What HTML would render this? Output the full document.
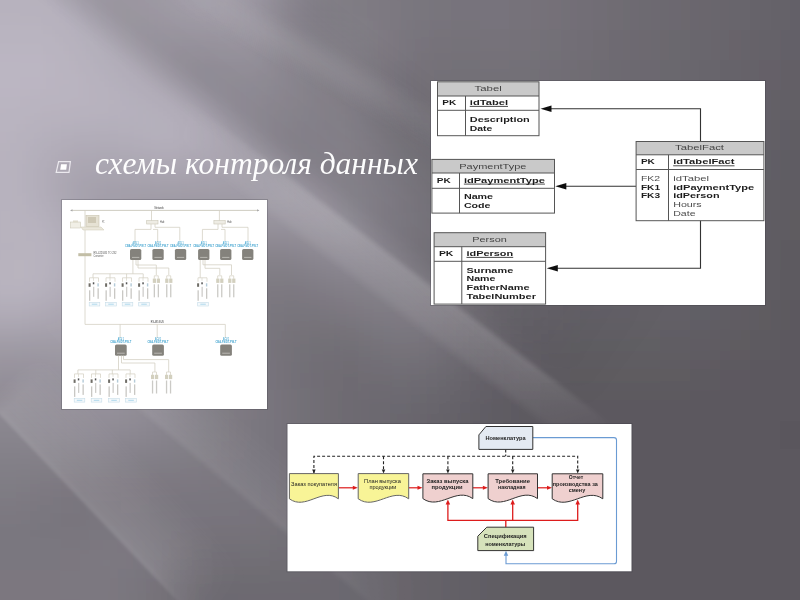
<!DOCTYPE html>
<html><head><meta charset="utf-8">
<style>
html,body{margin:0;padding:0;width:800px;height:600px;overflow:hidden;}
body{position:relative;font-family:"Liberation Sans",sans-serif;background:#5b585f;}
#st{position:absolute;left:0;top:0;width:800px;height:600px;overflow:hidden;}
#st div{position:absolute;}
#txt{position:absolute;left:95px;top:144px;font-family:"Liberation Serif",serif;font-style:italic;font-size:31.5px;line-height:40px;color:#fff;white-space:nowrap;opacity:0.99;}
svg.d{position:absolute;left:0;top:0;}
</style></head>
<body>
<svg id="bgf" width="800" height="600" viewBox="0 0 800 600" style="position:absolute;left:0;top:0"><defs><filter id="fb" x="-20%" y="-20%" width="140%" height="140%"><feGaussianBlur stdDeviation="15"/></filter></defs><g filter="url(#fb)"><rect x="-60" y="-60" width="30" height="30" fill="#b7b2be"/><rect x="-30" y="-60" width="30" height="30" fill="#b7b2be"/><rect x="0" y="-60" width="30" height="30" fill="#b7b2be"/><rect x="30" y="-60" width="30" height="30" fill="#b6b1bc"/><rect x="60" y="-60" width="30" height="30" fill="#b3aeba"/><rect x="90" y="-60" width="30" height="30" fill="#b0abb6"/><rect x="120" y="-60" width="30" height="30" fill="#afabb6"/><rect x="150" y="-60" width="30" height="30" fill="#b3aeb9"/><rect x="180" y="-60" width="30" height="30" fill="#b7b2be"/><rect x="210" y="-60" width="30" height="30" fill="#b3aeb9"/><rect x="240" y="-60" width="30" height="30" fill="#a5a0ab"/><rect x="270" y="-60" width="30" height="30" fill="#908c95"/><rect x="300" y="-60" width="30" height="30" fill="#827e87"/><rect x="330" y="-60" width="30" height="30" fill="#7f7b83"/><rect x="360" y="-60" width="30" height="30" fill="#7d7981"/><rect x="390" y="-60" width="30" height="30" fill="#7b777f"/><rect x="420" y="-60" width="30" height="30" fill="#79757d"/><rect x="450" y="-60" width="30" height="30" fill="#78747c"/><rect x="480" y="-60" width="30" height="30" fill="#77747b"/><rect x="510" y="-60" width="30" height="30" fill="#76727a"/><rect x="540" y="-60" width="30" height="30" fill="#747178"/><rect x="570" y="-60" width="30" height="30" fill="#726e76"/><rect x="600" y="-60" width="30" height="30" fill="#706c74"/><rect x="630" y="-60" width="30" height="30" fill="#6e6a72"/><rect x="660" y="-60" width="30" height="30" fill="#6c6970"/><rect x="690" y="-60" width="30" height="30" fill="#6a676e"/><rect x="720" y="-60" width="30" height="30" fill="#68656c"/><rect x="750" y="-60" width="30" height="30" fill="#66636a"/><rect x="780" y="-60" width="30" height="30" fill="#656168"/><rect x="810" y="-60" width="30" height="30" fill="#646168"/><rect x="840" y="-60" width="30" height="30" fill="#646168"/><rect x="-60" y="-30" width="30" height="30" fill="#b7b2be"/><rect x="-30" y="-30" width="30" height="30" fill="#b7b2be"/><rect x="0" y="-30" width="30" height="30" fill="#b7b2be"/><rect x="30" y="-30" width="30" height="30" fill="#b6b1bc"/><rect x="60" y="-30" width="30" height="30" fill="#b3aeba"/><rect x="90" y="-30" width="30" height="30" fill="#b0abb6"/><rect x="120" y="-30" width="30" height="30" fill="#afabb6"/><rect x="150" y="-30" width="30" height="30" fill="#b3aeb9"/><rect x="180" y="-30" width="30" height="30" fill="#b7b2be"/><rect x="210" y="-30" width="30" height="30" fill="#b3aeb9"/><rect x="240" y="-30" width="30" height="30" fill="#a5a0ab"/><rect x="270" y="-30" width="30" height="30" fill="#908c95"/><rect x="300" y="-30" width="30" height="30" fill="#827e87"/><rect x="330" y="-30" width="30" height="30" fill="#7f7b83"/><rect x="360" y="-30" width="30" height="30" fill="#7d7981"/><rect x="390" y="-30" width="30" height="30" fill="#7b777f"/><rect x="420" y="-30" width="30" height="30" fill="#79757d"/><rect x="450" y="-30" width="30" height="30" fill="#78747c"/><rect x="480" y="-30" width="30" height="30" fill="#77747b"/><rect x="510" y="-30" width="30" height="30" fill="#76727a"/><rect x="540" y="-30" width="30" height="30" fill="#747178"/><rect x="570" y="-30" width="30" height="30" fill="#726e76"/><rect x="600" y="-30" width="30" height="30" fill="#706c74"/><rect x="630" y="-30" width="30" height="30" fill="#6e6a72"/><rect x="660" y="-30" width="30" height="30" fill="#6c6970"/><rect x="690" y="-30" width="30" height="30" fill="#6a676e"/><rect x="720" y="-30" width="30" height="30" fill="#68656c"/><rect x="750" y="-30" width="30" height="30" fill="#66636a"/><rect x="780" y="-30" width="30" height="30" fill="#656168"/><rect x="810" y="-30" width="30" height="30" fill="#646168"/><rect x="840" y="-30" width="30" height="30" fill="#646168"/><rect x="-60" y="0" width="30" height="30" fill="#b8b3bf"/><rect x="-30" y="0" width="30" height="30" fill="#b8b3bf"/><rect x="0" y="0" width="30" height="30" fill="#b7b2be"/><rect x="30" y="0" width="30" height="30" fill="#b7b2be"/><rect x="60" y="0" width="30" height="30" fill="#b4afbb"/><rect x="90" y="0" width="30" height="30" fill="#afaab6"/><rect x="120" y="0" width="30" height="30" fill="#aea9b4"/><rect x="150" y="0" width="30" height="30" fill="#b0abb7"/><rect x="180" y="0" width="30" height="30" fill="#b5b0bc"/><rect x="210" y="0" width="30" height="30" fill="#b3aeb9"/><rect x="240" y="0" width="30" height="30" fill="#a7a3ae"/><rect x="270" y="0" width="30" height="30" fill="#928d97"/><rect x="300" y="0" width="30" height="30" fill="#837f88"/><rect x="330" y="0" width="30" height="30" fill="#807d85"/><rect x="360" y="0" width="30" height="30" fill="#7e7a82"/><rect x="390" y="0" width="30" height="30" fill="#7a777f"/><rect x="420" y="0" width="30" height="30" fill="#78747c"/><rect x="450" y="0" width="30" height="30" fill="#77737b"/><rect x="480" y="0" width="30" height="30" fill="#77737b"/><rect x="510" y="0" width="30" height="30" fill="#76727a"/><rect x="540" y="0" width="30" height="30" fill="#747078"/><rect x="570" y="0" width="30" height="30" fill="#726e76"/><rect x="600" y="0" width="30" height="30" fill="#6f6c73"/><rect x="630" y="0" width="30" height="30" fill="#6d6a71"/><rect x="660" y="0" width="30" height="30" fill="#6c686f"/><rect x="690" y="0" width="30" height="30" fill="#6a666d"/><rect x="720" y="0" width="30" height="30" fill="#68656c"/><rect x="750" y="0" width="30" height="30" fill="#66636a"/><rect x="780" y="0" width="30" height="30" fill="#646168"/><rect x="810" y="0" width="30" height="30" fill="#646167"/><rect x="840" y="0" width="30" height="30" fill="#646167"/><rect x="-60" y="30" width="30" height="30" fill="#bab5c1"/><rect x="-30" y="30" width="30" height="30" fill="#bab5c1"/><rect x="0" y="30" width="30" height="30" fill="#bab5c1"/><rect x="30" y="30" width="30" height="30" fill="#bab5c1"/><rect x="60" y="30" width="30" height="30" fill="#b7b2be"/><rect x="90" y="30" width="30" height="30" fill="#b1adb8"/><rect x="120" y="30" width="30" height="30" fill="#aca7b2"/><rect x="150" y="30" width="30" height="30" fill="#a9a4af"/><rect x="180" y="30" width="30" height="30" fill="#a7a2ad"/><rect x="210" y="30" width="30" height="30" fill="#aaa6b1"/><rect x="240" y="30" width="30" height="30" fill="#aaa5b0"/><rect x="270" y="30" width="30" height="30" fill="#99959f"/><rect x="300" y="30" width="30" height="30" fill="#8c8891"/><rect x="330" y="30" width="30" height="30" fill="#86838b"/><rect x="360" y="30" width="30" height="30" fill="#807c84"/><rect x="390" y="30" width="30" height="30" fill="#79757d"/><rect x="420" y="30" width="30" height="30" fill="#76727a"/><rect x="450" y="30" width="30" height="30" fill="#757279"/><rect x="480" y="30" width="30" height="30" fill="#76727a"/><rect x="510" y="30" width="30" height="30" fill="#757179"/><rect x="540" y="30" width="30" height="30" fill="#736f77"/><rect x="570" y="30" width="30" height="30" fill="#716d74"/><rect x="600" y="30" width="30" height="30" fill="#6e6b72"/><rect x="630" y="30" width="30" height="30" fill="#6d6970"/><rect x="660" y="30" width="30" height="30" fill="#6b676e"/><rect x="690" y="30" width="30" height="30" fill="#69666d"/><rect x="720" y="30" width="30" height="30" fill="#67646b"/><rect x="750" y="30" width="30" height="30" fill="#656269"/><rect x="780" y="30" width="30" height="30" fill="#636067"/><rect x="810" y="30" width="30" height="30" fill="#636067"/><rect x="840" y="30" width="30" height="30" fill="#636067"/><rect x="-60" y="60" width="30" height="30" fill="#bbb6c2"/><rect x="-30" y="60" width="30" height="30" fill="#bbb6c2"/><rect x="0" y="60" width="30" height="30" fill="#bbb6c2"/><rect x="30" y="60" width="30" height="30" fill="#bbb6c2"/><rect x="60" y="60" width="30" height="30" fill="#b9b4c0"/><rect x="90" y="60" width="30" height="30" fill="#b6b1bd"/><rect x="120" y="60" width="30" height="30" fill="#b0abb7"/><rect x="150" y="60" width="30" height="30" fill="#aaa5b0"/><rect x="180" y="60" width="30" height="30" fill="#a19da7"/><rect x="210" y="60" width="30" height="30" fill="#a19da7"/><rect x="240" y="60" width="30" height="30" fill="#a29ea8"/><rect x="270" y="60" width="30" height="30" fill="#9c97a2"/><rect x="300" y="60" width="30" height="30" fill="#938f98"/><rect x="330" y="60" width="30" height="30" fill="#8b8790"/><rect x="360" y="60" width="30" height="30" fill="#817d85"/><rect x="390" y="60" width="30" height="30" fill="#77737b"/><rect x="420" y="60" width="30" height="30" fill="#736f77"/><rect x="450" y="60" width="30" height="30" fill="#736f77"/><rect x="480" y="60" width="30" height="30" fill="#737077"/><rect x="510" y="60" width="30" height="30" fill="#736f77"/><rect x="540" y="60" width="30" height="30" fill="#716e75"/><rect x="570" y="60" width="30" height="30" fill="#6f6c73"/><rect x="600" y="60" width="30" height="30" fill="#6d6a71"/><rect x="630" y="60" width="30" height="30" fill="#6c686f"/><rect x="660" y="60" width="30" height="30" fill="#6a676e"/><rect x="690" y="60" width="30" height="30" fill="#68656c"/><rect x="720" y="60" width="30" height="30" fill="#66636a"/><rect x="750" y="60" width="30" height="30" fill="#656168"/><rect x="780" y="60" width="30" height="30" fill="#635f66"/><rect x="810" y="60" width="30" height="30" fill="#625f66"/><rect x="840" y="60" width="30" height="30" fill="#625f66"/><rect x="-60" y="90" width="30" height="30" fill="#bab5c1"/><rect x="-30" y="90" width="30" height="30" fill="#bab5c1"/><rect x="0" y="90" width="30" height="30" fill="#bab5c1"/><rect x="30" y="90" width="30" height="30" fill="#b9b4c0"/><rect x="60" y="90" width="30" height="30" fill="#b9b4c0"/><rect x="90" y="90" width="30" height="30" fill="#b8b3bf"/><rect x="120" y="90" width="30" height="30" fill="#b6b1bd"/><rect x="150" y="90" width="30" height="30" fill="#b3aeba"/><rect x="180" y="90" width="30" height="30" fill="#aba6b2"/><rect x="210" y="90" width="30" height="30" fill="#a29da8"/><rect x="240" y="90" width="30" height="30" fill="#9e99a4"/><rect x="270" y="90" width="30" height="30" fill="#99959f"/><rect x="300" y="90" width="30" height="30" fill="#95909a"/><rect x="330" y="90" width="30" height="30" fill="#918d96"/><rect x="360" y="90" width="30" height="30" fill="#848089"/><rect x="390" y="90" width="30" height="30" fill="#77737b"/><rect x="420" y="90" width="30" height="30" fill="#736f77"/><rect x="450" y="90" width="30" height="30" fill="#726e76"/><rect x="480" y="90" width="30" height="30" fill="#726e76"/><rect x="510" y="90" width="30" height="30" fill="#716e75"/><rect x="540" y="90" width="30" height="30" fill="#706d74"/><rect x="570" y="90" width="30" height="30" fill="#6e6b72"/><rect x="600" y="90" width="30" height="30" fill="#6d6970"/><rect x="630" y="90" width="30" height="30" fill="#6b676e"/><rect x="660" y="90" width="30" height="30" fill="#69666d"/><rect x="690" y="90" width="30" height="30" fill="#67646b"/><rect x="720" y="90" width="30" height="30" fill="#656269"/><rect x="750" y="90" width="30" height="30" fill="#646067"/><rect x="780" y="90" width="30" height="30" fill="#625e65"/><rect x="810" y="90" width="30" height="30" fill="#615e65"/><rect x="840" y="90" width="30" height="30" fill="#615e65"/><rect x="-60" y="120" width="30" height="30" fill="#b9b4c0"/><rect x="-30" y="120" width="30" height="30" fill="#b9b4c0"/><rect x="0" y="120" width="30" height="30" fill="#b8b3bf"/><rect x="30" y="120" width="30" height="30" fill="#b5b0bc"/><rect x="60" y="120" width="30" height="30" fill="#b3aeba"/><rect x="90" y="120" width="30" height="30" fill="#b3aeb9"/><rect x="120" y="120" width="30" height="30" fill="#b4afbb"/><rect x="150" y="120" width="30" height="30" fill="#b7b2be"/><rect x="180" y="120" width="30" height="30" fill="#b2adb9"/><rect x="210" y="120" width="30" height="30" fill="#a7a3ae"/><rect x="240" y="120" width="30" height="30" fill="#9e9aa4"/><rect x="270" y="120" width="30" height="30" fill="#96919b"/><rect x="300" y="120" width="30" height="30" fill="#928e98"/><rect x="330" y="120" width="30" height="30" fill="#938f98"/><rect x="360" y="120" width="30" height="30" fill="#8a868f"/><rect x="390" y="120" width="30" height="30" fill="#7e7a82"/><rect x="420" y="120" width="30" height="30" fill="#77737b"/><rect x="450" y="120" width="30" height="30" fill="#747078"/><rect x="480" y="120" width="30" height="30" fill="#726f76"/><rect x="510" y="120" width="30" height="30" fill="#716d75"/><rect x="540" y="120" width="30" height="30" fill="#6f6c73"/><rect x="570" y="120" width="30" height="30" fill="#6d6a71"/><rect x="600" y="120" width="30" height="30" fill="#6c686f"/><rect x="630" y="120" width="30" height="30" fill="#6a666d"/><rect x="660" y="120" width="30" height="30" fill="#68656c"/><rect x="690" y="120" width="30" height="30" fill="#66636a"/><rect x="720" y="120" width="30" height="30" fill="#646168"/><rect x="750" y="120" width="30" height="30" fill="#625f66"/><rect x="780" y="120" width="30" height="30" fill="#615d64"/><rect x="810" y="120" width="30" height="30" fill="#605d64"/><rect x="840" y="120" width="30" height="30" fill="#605d64"/><rect x="-60" y="150" width="30" height="30" fill="#b8b3bf"/><rect x="-30" y="150" width="30" height="30" fill="#b8b3bf"/><rect x="0" y="150" width="30" height="30" fill="#b7b2bd"/><rect x="30" y="150" width="30" height="30" fill="#b1acb8"/><rect x="60" y="150" width="30" height="30" fill="#aba6b1"/><rect x="90" y="150" width="30" height="30" fill="#a9a5b0"/><rect x="120" y="150" width="30" height="30" fill="#aba7b2"/><rect x="150" y="150" width="30" height="30" fill="#ada8b3"/><rect x="180" y="150" width="30" height="30" fill="#aba6b2"/><rect x="210" y="150" width="30" height="30" fill="#a7a2ad"/><rect x="240" y="150" width="30" height="30" fill="#a19da7"/><rect x="270" y="150" width="30" height="30" fill="#9a96a0"/><rect x="300" y="150" width="30" height="30" fill="#95919b"/><rect x="330" y="150" width="30" height="30" fill="#94909a"/><rect x="360" y="150" width="30" height="30" fill="#8e8a93"/><rect x="390" y="150" width="30" height="30" fill="#848189"/><rect x="420" y="150" width="30" height="30" fill="#7c7981"/><rect x="450" y="150" width="30" height="30" fill="#77747b"/><rect x="480" y="150" width="30" height="30" fill="#747078"/><rect x="510" y="150" width="30" height="30" fill="#716e75"/><rect x="540" y="150" width="30" height="30" fill="#6f6b73"/><rect x="570" y="150" width="30" height="30" fill="#6d6970"/><rect x="600" y="150" width="30" height="30" fill="#6b676e"/><rect x="630" y="150" width="30" height="30" fill="#69666d"/><rect x="660" y="150" width="30" height="30" fill="#67646b"/><rect x="690" y="150" width="30" height="30" fill="#656269"/><rect x="720" y="150" width="30" height="30" fill="#636067"/><rect x="750" y="150" width="30" height="30" fill="#615e65"/><rect x="780" y="150" width="30" height="30" fill="#5f5c63"/><rect x="810" y="150" width="30" height="30" fill="#5f5c62"/><rect x="840" y="150" width="30" height="30" fill="#5f5c62"/><rect x="-60" y="180" width="30" height="30" fill="#b8b3bf"/><rect x="-30" y="180" width="30" height="30" fill="#b8b3bf"/><rect x="0" y="180" width="30" height="30" fill="#b7b2be"/><rect x="30" y="180" width="30" height="30" fill="#b1acb8"/><rect x="60" y="180" width="30" height="30" fill="#a6a2ad"/><rect x="90" y="180" width="30" height="30" fill="#a39ea9"/><rect x="120" y="180" width="30" height="30" fill="#a29da8"/><rect x="150" y="180" width="30" height="30" fill="#a09ca6"/><rect x="180" y="180" width="30" height="30" fill="#a09ba5"/><rect x="210" y="180" width="30" height="30" fill="#a09ca6"/><rect x="240" y="180" width="30" height="30" fill="#a19da7"/><rect x="270" y="180" width="30" height="30" fill="#a29ea8"/><rect x="300" y="180" width="30" height="30" fill="#9d98a3"/><rect x="330" y="180" width="30" height="30" fill="#98949e"/><rect x="360" y="180" width="30" height="30" fill="#918d97"/><rect x="390" y="180" width="30" height="30" fill="#89858e"/><rect x="420" y="180" width="30" height="30" fill="#807d85"/><rect x="450" y="180" width="30" height="30" fill="#7a767e"/><rect x="480" y="180" width="30" height="30" fill="#757279"/><rect x="510" y="180" width="30" height="30" fill="#716e75"/><rect x="540" y="180" width="30" height="30" fill="#6e6b72"/><rect x="570" y="180" width="30" height="30" fill="#6c6970"/><rect x="600" y="180" width="30" height="30" fill="#6a676e"/><rect x="630" y="180" width="30" height="30" fill="#68656c"/><rect x="660" y="180" width="30" height="30" fill="#66636a"/><rect x="690" y="180" width="30" height="30" fill="#646168"/><rect x="720" y="180" width="30" height="30" fill="#625f66"/><rect x="750" y="180" width="30" height="30" fill="#605d63"/><rect x="780" y="180" width="30" height="30" fill="#5e5b62"/><rect x="810" y="180" width="30" height="30" fill="#5e5b61"/><rect x="840" y="180" width="30" height="30" fill="#5e5b61"/><rect x="-60" y="210" width="30" height="30" fill="#b7b2be"/><rect x="-30" y="210" width="30" height="30" fill="#b7b2be"/><rect x="0" y="210" width="30" height="30" fill="#b8b3bf"/><rect x="30" y="210" width="30" height="30" fill="#b7b2be"/><rect x="60" y="210" width="30" height="30" fill="#aca7b2"/><rect x="90" y="210" width="30" height="30" fill="#a39ea9"/><rect x="120" y="210" width="30" height="30" fill="#9e99a3"/><rect x="150" y="210" width="30" height="30" fill="#99959f"/><rect x="180" y="210" width="30" height="30" fill="#97929c"/><rect x="210" y="210" width="30" height="30" fill="#96929b"/><rect x="240" y="210" width="30" height="30" fill="#96929b"/><rect x="270" y="210" width="30" height="30" fill="#97939d"/><rect x="300" y="210" width="30" height="30" fill="#9a959f"/><rect x="330" y="210" width="30" height="30" fill="#98949e"/><rect x="360" y="210" width="30" height="30" fill="#918d97"/><rect x="390" y="210" width="30" height="30" fill="#8a868f"/><rect x="420" y="210" width="30" height="30" fill="#827e87"/><rect x="450" y="210" width="30" height="30" fill="#7b7880"/><rect x="480" y="210" width="30" height="30" fill="#76727a"/><rect x="510" y="210" width="30" height="30" fill="#716e75"/><rect x="540" y="210" width="30" height="30" fill="#6e6a71"/><rect x="570" y="210" width="30" height="30" fill="#6b686f"/><rect x="600" y="210" width="30" height="30" fill="#69666c"/><rect x="630" y="210" width="30" height="30" fill="#67646b"/><rect x="660" y="210" width="30" height="30" fill="#656269"/><rect x="690" y="210" width="30" height="30" fill="#646067"/><rect x="720" y="210" width="30" height="30" fill="#615e65"/><rect x="750" y="210" width="30" height="30" fill="#5f5c63"/><rect x="780" y="210" width="30" height="30" fill="#5e5b61"/><rect x="810" y="210" width="30" height="30" fill="#5d5a61"/><rect x="840" y="210" width="30" height="30" fill="#5d5a61"/><rect x="-60" y="240" width="30" height="30" fill="#b6b1bc"/><rect x="-30" y="240" width="30" height="30" fill="#b6b1bc"/><rect x="0" y="240" width="30" height="30" fill="#b8b3be"/><rect x="30" y="240" width="30" height="30" fill="#b8b3bf"/><rect x="60" y="240" width="30" height="30" fill="#afaab6"/><rect x="90" y="240" width="30" height="30" fill="#a5a0ab"/><rect x="120" y="240" width="30" height="30" fill="#9c98a2"/><rect x="150" y="240" width="30" height="30" fill="#95919b"/><rect x="180" y="240" width="30" height="30" fill="#908c95"/><rect x="210" y="240" width="30" height="30" fill="#8b8790"/><rect x="240" y="240" width="30" height="30" fill="#87838c"/><rect x="270" y="240" width="30" height="30" fill="#86828a"/><rect x="300" y="240" width="30" height="30" fill="#8c8891"/><rect x="330" y="240" width="30" height="30" fill="#8f8b94"/><rect x="360" y="240" width="30" height="30" fill="#8d8992"/><rect x="390" y="240" width="30" height="30" fill="#88848d"/><rect x="420" y="240" width="30" height="30" fill="#817e86"/><rect x="450" y="240" width="30" height="30" fill="#7b777f"/><rect x="480" y="240" width="30" height="30" fill="#757179"/><rect x="510" y="240" width="30" height="30" fill="#706c74"/><rect x="540" y="240" width="30" height="30" fill="#6c6970"/><rect x="570" y="240" width="30" height="30" fill="#69666d"/><rect x="600" y="240" width="30" height="30" fill="#68646b"/><rect x="630" y="240" width="30" height="30" fill="#66636a"/><rect x="660" y="240" width="30" height="30" fill="#656168"/><rect x="690" y="240" width="30" height="30" fill="#636066"/><rect x="720" y="240" width="30" height="30" fill="#615e64"/><rect x="750" y="240" width="30" height="30" fill="#5f5c62"/><rect x="780" y="240" width="30" height="30" fill="#5d5a60"/><rect x="810" y="240" width="30" height="30" fill="#5d5a60"/><rect x="840" y="240" width="30" height="30" fill="#5d5a60"/><rect x="-60" y="270" width="30" height="30" fill="#b8b3be"/><rect x="-30" y="270" width="30" height="30" fill="#b8b3be"/><rect x="0" y="270" width="30" height="30" fill="#bab5c1"/><rect x="30" y="270" width="30" height="30" fill="#b7b2be"/><rect x="60" y="270" width="30" height="30" fill="#aea9b4"/><rect x="90" y="270" width="30" height="30" fill="#a4a0aa"/><rect x="120" y="270" width="30" height="30" fill="#9b97a1"/><rect x="150" y="270" width="30" height="30" fill="#938f98"/><rect x="180" y="270" width="30" height="30" fill="#8b8791"/><rect x="210" y="270" width="30" height="30" fill="#858189"/><rect x="240" y="270" width="30" height="30" fill="#7f7b83"/><rect x="270" y="270" width="30" height="30" fill="#7d7981"/><rect x="300" y="270" width="30" height="30" fill="#807c85"/><rect x="330" y="270" width="30" height="30" fill="#848089"/><rect x="360" y="270" width="30" height="30" fill="#85828a"/><rect x="390" y="270" width="30" height="30" fill="#848089"/><rect x="420" y="270" width="30" height="30" fill="#7f7b84"/><rect x="450" y="270" width="30" height="30" fill="#79757d"/><rect x="480" y="270" width="30" height="30" fill="#726f76"/><rect x="510" y="270" width="30" height="30" fill="#6d6a71"/><rect x="540" y="270" width="30" height="30" fill="#6a666d"/><rect x="570" y="270" width="30" height="30" fill="#67646b"/><rect x="600" y="270" width="30" height="30" fill="#666369"/><rect x="630" y="270" width="30" height="30" fill="#656168"/><rect x="660" y="270" width="30" height="30" fill="#646067"/><rect x="690" y="270" width="30" height="30" fill="#625f66"/><rect x="720" y="270" width="30" height="30" fill="#605d64"/><rect x="750" y="270" width="30" height="30" fill="#5f5b62"/><rect x="780" y="270" width="30" height="30" fill="#5d5a60"/><rect x="810" y="270" width="30" height="30" fill="#5d5a60"/><rect x="840" y="270" width="30" height="30" fill="#5d5a60"/><rect x="-60" y="300" width="30" height="30" fill="#b0abb6"/><rect x="-30" y="300" width="30" height="30" fill="#b0abb6"/><rect x="0" y="300" width="30" height="30" fill="#b1acb7"/><rect x="30" y="300" width="30" height="30" fill="#ada8b4"/><rect x="60" y="300" width="30" height="30" fill="#a8a3ae"/><rect x="90" y="300" width="30" height="30" fill="#a19da7"/><rect x="120" y="300" width="30" height="30" fill="#9a959f"/><rect x="150" y="300" width="30" height="30" fill="#918d97"/><rect x="180" y="300" width="30" height="30" fill="#89858e"/><rect x="210" y="300" width="30" height="30" fill="#827e86"/><rect x="240" y="300" width="30" height="30" fill="#7b7880"/><rect x="270" y="300" width="30" height="30" fill="#78747c"/><rect x="300" y="300" width="30" height="30" fill="#78747c"/><rect x="330" y="300" width="30" height="30" fill="#7a767e"/><rect x="360" y="300" width="30" height="30" fill="#7e7a82"/><rect x="390" y="300" width="30" height="30" fill="#7f7b84"/><rect x="420" y="300" width="30" height="30" fill="#7b777f"/><rect x="450" y="300" width="30" height="30" fill="#747178"/><rect x="480" y="300" width="30" height="30" fill="#6e6b72"/><rect x="510" y="300" width="30" height="30" fill="#69666d"/><rect x="540" y="300" width="30" height="30" fill="#66636a"/><rect x="570" y="300" width="30" height="30" fill="#646168"/><rect x="600" y="300" width="30" height="30" fill="#636067"/><rect x="630" y="300" width="30" height="30" fill="#636066"/><rect x="660" y="300" width="30" height="30" fill="#625f66"/><rect x="690" y="300" width="30" height="30" fill="#615e65"/><rect x="720" y="300" width="30" height="30" fill="#605c63"/><rect x="750" y="300" width="30" height="30" fill="#5e5b61"/><rect x="780" y="300" width="30" height="30" fill="#5c595f"/><rect x="810" y="300" width="30" height="30" fill="#5c595f"/><rect x="840" y="300" width="30" height="30" fill="#5c595f"/><rect x="-60" y="330" width="30" height="30" fill="#a19ca6"/><rect x="-30" y="330" width="30" height="30" fill="#a19ca6"/><rect x="0" y="330" width="30" height="30" fill="#9f9ba5"/><rect x="30" y="330" width="30" height="30" fill="#9f9aa4"/><rect x="60" y="330" width="30" height="30" fill="#9f9ba5"/><rect x="90" y="330" width="30" height="30" fill="#9d98a3"/><rect x="120" y="330" width="30" height="30" fill="#98939d"/><rect x="150" y="330" width="30" height="30" fill="#908c96"/><rect x="180" y="330" width="30" height="30" fill="#88848d"/><rect x="210" y="330" width="30" height="30" fill="#817d85"/><rect x="240" y="330" width="30" height="30" fill="#7a767e"/><rect x="270" y="330" width="30" height="30" fill="#757279"/><rect x="300" y="330" width="30" height="30" fill="#726f76"/><rect x="330" y="330" width="30" height="30" fill="#716e75"/><rect x="360" y="330" width="30" height="30" fill="#757279"/><rect x="390" y="330" width="30" height="30" fill="#78747c"/><rect x="420" y="330" width="30" height="30" fill="#757179"/><rect x="450" y="330" width="30" height="30" fill="#6e6b72"/><rect x="480" y="330" width="30" height="30" fill="#68656c"/><rect x="510" y="330" width="30" height="30" fill="#646168"/><rect x="540" y="330" width="30" height="30" fill="#625f65"/><rect x="570" y="330" width="30" height="30" fill="#615e64"/><rect x="600" y="330" width="30" height="30" fill="#615e64"/><rect x="630" y="330" width="30" height="30" fill="#615e64"/><rect x="660" y="330" width="30" height="30" fill="#605d64"/><rect x="690" y="330" width="30" height="30" fill="#605c63"/><rect x="720" y="330" width="30" height="30" fill="#5e5b61"/><rect x="750" y="330" width="30" height="30" fill="#5d5a60"/><rect x="780" y="330" width="30" height="30" fill="#5c595f"/><rect x="810" y="330" width="30" height="30" fill="#5c595f"/><rect x="840" y="330" width="30" height="30" fill="#5c595f"/><rect x="-60" y="360" width="30" height="30" fill="#95919b"/><rect x="-30" y="360" width="30" height="30" fill="#95919b"/><rect x="0" y="360" width="30" height="30" fill="#95909a"/><rect x="30" y="360" width="30" height="30" fill="#96929c"/><rect x="60" y="360" width="30" height="30" fill="#99959f"/><rect x="90" y="360" width="30" height="30" fill="#99959f"/><rect x="120" y="360" width="30" height="30" fill="#96919b"/><rect x="150" y="360" width="30" height="30" fill="#8f8b94"/><rect x="180" y="360" width="30" height="30" fill="#88848d"/><rect x="210" y="360" width="30" height="30" fill="#817d85"/><rect x="240" y="360" width="30" height="30" fill="#7a777f"/><rect x="270" y="360" width="30" height="30" fill="#757179"/><rect x="300" y="360" width="30" height="30" fill="#716d75"/><rect x="330" y="360" width="30" height="30" fill="#6e6b72"/><rect x="360" y="360" width="30" height="30" fill="#6f6c73"/><rect x="390" y="360" width="30" height="30" fill="#706d74"/><rect x="420" y="360" width="30" height="30" fill="#6d6a71"/><rect x="450" y="360" width="30" height="30" fill="#68656c"/><rect x="480" y="360" width="30" height="30" fill="#635f66"/><rect x="510" y="360" width="30" height="30" fill="#605c63"/><rect x="540" y="360" width="30" height="30" fill="#5e5b62"/><rect x="570" y="360" width="30" height="30" fill="#5e5b61"/><rect x="600" y="360" width="30" height="30" fill="#5e5b61"/><rect x="630" y="360" width="30" height="30" fill="#5e5b61"/><rect x="660" y="360" width="30" height="30" fill="#5e5b61"/><rect x="690" y="360" width="30" height="30" fill="#5d5a60"/><rect x="720" y="360" width="30" height="30" fill="#5d5960"/><rect x="750" y="360" width="30" height="30" fill="#5c595f"/><rect x="780" y="360" width="30" height="30" fill="#5b585e"/><rect x="810" y="360" width="30" height="30" fill="#5b585e"/><rect x="840" y="360" width="30" height="30" fill="#5b585e"/><rect x="-60" y="390" width="30" height="30" fill="#8e8a93"/><rect x="-30" y="390" width="30" height="30" fill="#8e8a93"/><rect x="0" y="390" width="30" height="30" fill="#8e8a93"/><rect x="30" y="390" width="30" height="30" fill="#918d96"/><rect x="60" y="390" width="30" height="30" fill="#94909a"/><rect x="90" y="390" width="30" height="30" fill="#96929c"/><rect x="120" y="390" width="30" height="30" fill="#938f98"/><rect x="150" y="390" width="30" height="30" fill="#8d8992"/><rect x="180" y="390" width="30" height="30" fill="#87838b"/><rect x="210" y="390" width="30" height="30" fill="#807d85"/><rect x="240" y="390" width="30" height="30" fill="#7b777f"/><rect x="270" y="390" width="30" height="30" fill="#76727a"/><rect x="300" y="390" width="30" height="30" fill="#716e75"/><rect x="330" y="390" width="30" height="30" fill="#6e6a72"/><rect x="360" y="390" width="30" height="30" fill="#6c6970"/><rect x="390" y="390" width="30" height="30" fill="#6b686f"/><rect x="420" y="390" width="30" height="30" fill="#68656c"/><rect x="450" y="390" width="30" height="30" fill="#646167"/><rect x="480" y="390" width="30" height="30" fill="#5f5c63"/><rect x="510" y="390" width="30" height="30" fill="#5d5a60"/><rect x="540" y="390" width="30" height="30" fill="#5c595f"/><rect x="570" y="390" width="30" height="30" fill="#5c595f"/><rect x="600" y="390" width="30" height="30" fill="#5c595f"/><rect x="630" y="390" width="30" height="30" fill="#5c595f"/><rect x="660" y="390" width="30" height="30" fill="#5c595f"/><rect x="690" y="390" width="30" height="30" fill="#5b585e"/><rect x="720" y="390" width="30" height="30" fill="#5b585e"/><rect x="750" y="390" width="30" height="30" fill="#5b585e"/><rect x="780" y="390" width="30" height="30" fill="#5b585e"/><rect x="810" y="390" width="30" height="30" fill="#5a575e"/><rect x="840" y="390" width="30" height="30" fill="#5a575e"/><rect x="-60" y="420" width="30" height="30" fill="#88848d"/><rect x="-30" y="420" width="30" height="30" fill="#88848d"/><rect x="0" y="420" width="30" height="30" fill="#88858d"/><rect x="30" y="420" width="30" height="30" fill="#8a868f"/><rect x="60" y="420" width="30" height="30" fill="#8c8891"/><rect x="90" y="420" width="30" height="30" fill="#8f8b94"/><rect x="120" y="420" width="30" height="30" fill="#8c8891"/><rect x="150" y="420" width="30" height="30" fill="#88848d"/><rect x="180" y="420" width="30" height="30" fill="#838088"/><rect x="210" y="420" width="30" height="30" fill="#7f7b83"/><rect x="240" y="420" width="30" height="30" fill="#7a777f"/><rect x="270" y="420" width="30" height="30" fill="#76727a"/><rect x="300" y="420" width="30" height="30" fill="#726e76"/><rect x="330" y="420" width="30" height="30" fill="#6e6b72"/><rect x="360" y="420" width="30" height="30" fill="#6b686f"/><rect x="390" y="420" width="30" height="30" fill="#69656c"/><rect x="420" y="420" width="30" height="30" fill="#656269"/><rect x="450" y="420" width="30" height="30" fill="#625f65"/><rect x="480" y="420" width="30" height="30" fill="#5e5b62"/><rect x="510" y="420" width="30" height="30" fill="#5c595f"/><rect x="540" y="420" width="30" height="30" fill="#5b585e"/><rect x="570" y="420" width="30" height="30" fill="#5b585e"/><rect x="600" y="420" width="30" height="30" fill="#5b585e"/><rect x="630" y="420" width="30" height="30" fill="#5b585e"/><rect x="660" y="420" width="30" height="30" fill="#5b585e"/><rect x="690" y="420" width="30" height="30" fill="#5b585e"/><rect x="720" y="420" width="30" height="30" fill="#5b585e"/><rect x="750" y="420" width="30" height="30" fill="#5b585e"/><rect x="780" y="420" width="30" height="30" fill="#5a575d"/><rect x="810" y="420" width="30" height="30" fill="#5a575d"/><rect x="840" y="420" width="30" height="30" fill="#5a575d"/><rect x="-60" y="450" width="30" height="30" fill="#837f87"/><rect x="-30" y="450" width="30" height="30" fill="#837f87"/><rect x="0" y="450" width="30" height="30" fill="#827f87"/><rect x="30" y="450" width="30" height="30" fill="#827e86"/><rect x="60" y="450" width="30" height="30" fill="#807d85"/><rect x="90" y="450" width="30" height="30" fill="#827e86"/><rect x="120" y="450" width="30" height="30" fill="#827e87"/><rect x="150" y="450" width="30" height="30" fill="#807d85"/><rect x="180" y="450" width="30" height="30" fill="#7f7b83"/><rect x="210" y="450" width="30" height="30" fill="#7c7981"/><rect x="240" y="450" width="30" height="30" fill="#79767e"/><rect x="270" y="450" width="30" height="30" fill="#76727a"/><rect x="300" y="450" width="30" height="30" fill="#726f76"/><rect x="330" y="450" width="30" height="30" fill="#6e6b72"/><rect x="360" y="450" width="30" height="30" fill="#6b686f"/><rect x="390" y="450" width="30" height="30" fill="#68646b"/><rect x="420" y="450" width="30" height="30" fill="#646168"/><rect x="450" y="450" width="30" height="30" fill="#615e64"/><rect x="480" y="450" width="30" height="30" fill="#5e5b61"/><rect x="510" y="450" width="30" height="30" fill="#5c595f"/><rect x="540" y="450" width="30" height="30" fill="#5b585e"/><rect x="570" y="450" width="30" height="30" fill="#5b585e"/><rect x="600" y="450" width="30" height="30" fill="#5b585e"/><rect x="630" y="450" width="30" height="30" fill="#5b585f"/><rect x="660" y="450" width="30" height="30" fill="#5b585e"/><rect x="690" y="450" width="30" height="30" fill="#5b585e"/><rect x="720" y="450" width="30" height="30" fill="#5b585e"/><rect x="750" y="450" width="30" height="30" fill="#5b585e"/><rect x="780" y="450" width="30" height="30" fill="#5b585e"/><rect x="810" y="450" width="30" height="30" fill="#5a575e"/><rect x="840" y="450" width="30" height="30" fill="#5a575e"/><rect x="-60" y="480" width="30" height="30" fill="#7f7b83"/><rect x="-30" y="480" width="30" height="30" fill="#7f7b83"/><rect x="0" y="480" width="30" height="30" fill="#7e7b83"/><rect x="30" y="480" width="30" height="30" fill="#7c7880"/><rect x="60" y="480" width="30" height="30" fill="#79757d"/><rect x="90" y="480" width="30" height="30" fill="#7a767e"/><rect x="120" y="480" width="30" height="30" fill="#7b777f"/><rect x="150" y="480" width="30" height="30" fill="#7a767e"/><rect x="180" y="480" width="30" height="30" fill="#7a767f"/><rect x="210" y="480" width="30" height="30" fill="#7a767e"/><rect x="240" y="480" width="30" height="30" fill="#78757d"/><rect x="270" y="480" width="30" height="30" fill="#75727a"/><rect x="300" y="480" width="30" height="30" fill="#726e76"/><rect x="330" y="480" width="30" height="30" fill="#6e6b72"/><rect x="360" y="480" width="30" height="30" fill="#6b686f"/><rect x="390" y="480" width="30" height="30" fill="#68646b"/><rect x="420" y="480" width="30" height="30" fill="#646168"/><rect x="450" y="480" width="30" height="30" fill="#615e64"/><rect x="480" y="480" width="30" height="30" fill="#5f5b62"/><rect x="510" y="480" width="30" height="30" fill="#5d5a60"/><rect x="540" y="480" width="30" height="30" fill="#5c595f"/><rect x="570" y="480" width="30" height="30" fill="#5b585e"/><rect x="600" y="480" width="30" height="30" fill="#5c585f"/><rect x="630" y="480" width="30" height="30" fill="#5c595f"/><rect x="660" y="480" width="30" height="30" fill="#5c595f"/><rect x="690" y="480" width="30" height="30" fill="#5c595f"/><rect x="720" y="480" width="30" height="30" fill="#5b585f"/><rect x="750" y="480" width="30" height="30" fill="#5b585e"/><rect x="780" y="480" width="30" height="30" fill="#5b585e"/><rect x="810" y="480" width="30" height="30" fill="#5b585e"/><rect x="840" y="480" width="30" height="30" fill="#5b585e"/><rect x="-60" y="510" width="30" height="30" fill="#7b7880"/><rect x="-30" y="510" width="30" height="30" fill="#7b7880"/><rect x="0" y="510" width="30" height="30" fill="#7a777f"/><rect x="30" y="510" width="30" height="30" fill="#79767e"/><rect x="60" y="510" width="30" height="30" fill="#79757d"/><rect x="90" y="510" width="30" height="30" fill="#7a767e"/><rect x="120" y="510" width="30" height="30" fill="#7a767e"/><rect x="150" y="510" width="30" height="30" fill="#78747c"/><rect x="180" y="510" width="30" height="30" fill="#77737b"/><rect x="210" y="510" width="30" height="30" fill="#77737b"/><rect x="240" y="510" width="30" height="30" fill="#77737b"/><rect x="270" y="510" width="30" height="30" fill="#747178"/><rect x="300" y="510" width="30" height="30" fill="#716e75"/><rect x="330" y="510" width="30" height="30" fill="#6e6a72"/><rect x="360" y="510" width="30" height="30" fill="#6b676e"/><rect x="390" y="510" width="30" height="30" fill="#68646b"/><rect x="420" y="510" width="30" height="30" fill="#656168"/><rect x="450" y="510" width="30" height="30" fill="#625e65"/><rect x="480" y="510" width="30" height="30" fill="#5f5c62"/><rect x="510" y="510" width="30" height="30" fill="#5d5a60"/><rect x="540" y="510" width="30" height="30" fill="#5c595f"/><rect x="570" y="510" width="30" height="30" fill="#5c595f"/><rect x="600" y="510" width="30" height="30" fill="#5c595f"/><rect x="630" y="510" width="30" height="30" fill="#5c595f"/><rect x="660" y="510" width="30" height="30" fill="#5c595f"/><rect x="690" y="510" width="30" height="30" fill="#5c595f"/><rect x="720" y="510" width="30" height="30" fill="#5c595f"/><rect x="750" y="510" width="30" height="30" fill="#5c595f"/><rect x="780" y="510" width="30" height="30" fill="#5b585e"/><rect x="810" y="510" width="30" height="30" fill="#5b585e"/><rect x="840" y="510" width="30" height="30" fill="#5b585e"/><rect x="-60" y="540" width="30" height="30" fill="#7b777f"/><rect x="-30" y="540" width="30" height="30" fill="#7b777f"/><rect x="0" y="540" width="30" height="30" fill="#7a777f"/><rect x="30" y="540" width="30" height="30" fill="#7a777f"/><rect x="60" y="540" width="30" height="30" fill="#7b777f"/><rect x="90" y="540" width="30" height="30" fill="#7c7981"/><rect x="120" y="540" width="30" height="30" fill="#7c7881"/><rect x="150" y="540" width="30" height="30" fill="#77737b"/><rect x="180" y="540" width="30" height="30" fill="#736f77"/><rect x="210" y="540" width="30" height="30" fill="#726e76"/><rect x="240" y="540" width="30" height="30" fill="#726f76"/><rect x="270" y="540" width="30" height="30" fill="#716e75"/><rect x="300" y="540" width="30" height="30" fill="#6f6c73"/><rect x="330" y="540" width="30" height="30" fill="#6d6971"/><rect x="360" y="540" width="30" height="30" fill="#6a676e"/><rect x="390" y="540" width="30" height="30" fill="#68646b"/><rect x="420" y="540" width="30" height="30" fill="#656268"/><rect x="450" y="540" width="30" height="30" fill="#625f65"/><rect x="480" y="540" width="30" height="30" fill="#605d63"/><rect x="510" y="540" width="30" height="30" fill="#5e5b61"/><rect x="540" y="540" width="30" height="30" fill="#5c5960"/><rect x="570" y="540" width="30" height="30" fill="#5c595f"/><rect x="600" y="540" width="30" height="30" fill="#5c595f"/><rect x="630" y="540" width="30" height="30" fill="#5c595f"/><rect x="660" y="540" width="30" height="30" fill="#5c595f"/><rect x="690" y="540" width="30" height="30" fill="#5c595f"/><rect x="720" y="540" width="30" height="30" fill="#5c595f"/><rect x="750" y="540" width="30" height="30" fill="#5c595f"/><rect x="780" y="540" width="30" height="30" fill="#5c595f"/><rect x="810" y="540" width="30" height="30" fill="#5c595f"/><rect x="840" y="540" width="30" height="30" fill="#5c595f"/><rect x="-60" y="570" width="30" height="30" fill="#7b777f"/><rect x="-30" y="570" width="30" height="30" fill="#7b777f"/><rect x="0" y="570" width="30" height="30" fill="#7b777f"/><rect x="30" y="570" width="30" height="30" fill="#7b777f"/><rect x="60" y="570" width="30" height="30" fill="#7c7880"/><rect x="90" y="570" width="30" height="30" fill="#7c7880"/><rect x="120" y="570" width="30" height="30" fill="#7a767e"/><rect x="150" y="570" width="30" height="30" fill="#747178"/><rect x="180" y="570" width="30" height="30" fill="#6e6b72"/><rect x="210" y="570" width="30" height="30" fill="#6d6a71"/><rect x="240" y="570" width="30" height="30" fill="#6d6a71"/><rect x="270" y="570" width="30" height="30" fill="#6d6a71"/><rect x="300" y="570" width="30" height="30" fill="#6d6970"/><rect x="330" y="570" width="30" height="30" fill="#6b686f"/><rect x="360" y="570" width="30" height="30" fill="#69666d"/><rect x="390" y="570" width="30" height="30" fill="#67646b"/><rect x="420" y="570" width="30" height="30" fill="#656268"/><rect x="450" y="570" width="30" height="30" fill="#625f66"/><rect x="480" y="570" width="30" height="30" fill="#605d63"/><rect x="510" y="570" width="30" height="30" fill="#5e5b61"/><rect x="540" y="570" width="30" height="30" fill="#5d5a60"/><rect x="570" y="570" width="30" height="30" fill="#5c595f"/><rect x="600" y="570" width="30" height="30" fill="#5c595f"/><rect x="630" y="570" width="30" height="30" fill="#5c595f"/><rect x="660" y="570" width="30" height="30" fill="#5c595f"/><rect x="690" y="570" width="30" height="30" fill="#5c595f"/><rect x="720" y="570" width="30" height="30" fill="#5c595f"/><rect x="750" y="570" width="30" height="30" fill="#5c595f"/><rect x="780" y="570" width="30" height="30" fill="#5c595f"/><rect x="810" y="570" width="30" height="30" fill="#5c595f"/><rect x="840" y="570" width="30" height="30" fill="#5c595f"/><rect x="-60" y="600" width="30" height="30" fill="#7b777f"/><rect x="-30" y="600" width="30" height="30" fill="#7b777f"/><rect x="0" y="600" width="30" height="30" fill="#7b777f"/><rect x="30" y="600" width="30" height="30" fill="#7b777f"/><rect x="60" y="600" width="30" height="30" fill="#7b7780"/><rect x="90" y="600" width="30" height="30" fill="#7b777f"/><rect x="120" y="600" width="30" height="30" fill="#78757c"/><rect x="150" y="600" width="30" height="30" fill="#736f77"/><rect x="180" y="600" width="30" height="30" fill="#6d6a71"/><rect x="210" y="600" width="30" height="30" fill="#6b686f"/><rect x="240" y="600" width="30" height="30" fill="#6c686f"/><rect x="270" y="600" width="30" height="30" fill="#6c6870"/><rect x="300" y="600" width="30" height="30" fill="#6b686f"/><rect x="330" y="600" width="30" height="30" fill="#6a676e"/><rect x="360" y="600" width="30" height="30" fill="#69656c"/><rect x="390" y="600" width="30" height="30" fill="#67646a"/><rect x="420" y="600" width="30" height="30" fill="#656168"/><rect x="450" y="600" width="30" height="30" fill="#625f65"/><rect x="480" y="600" width="30" height="30" fill="#605d63"/><rect x="510" y="600" width="30" height="30" fill="#5e5b61"/><rect x="540" y="600" width="30" height="30" fill="#5d5a60"/><rect x="570" y="600" width="30" height="30" fill="#5c595f"/><rect x="600" y="600" width="30" height="30" fill="#5c595f"/><rect x="630" y="600" width="30" height="30" fill="#5c595f"/><rect x="660" y="600" width="30" height="30" fill="#5c595f"/><rect x="690" y="600" width="30" height="30" fill="#5c595f"/><rect x="720" y="600" width="30" height="30" fill="#5c595f"/><rect x="750" y="600" width="30" height="30" fill="#5c595f"/><rect x="780" y="600" width="30" height="30" fill="#5c595f"/><rect x="810" y="600" width="30" height="30" fill="#5b585f"/><rect x="840" y="600" width="30" height="30" fill="#5b585f"/><rect x="-60" y="630" width="30" height="30" fill="#7b777f"/><rect x="-30" y="630" width="30" height="30" fill="#7b777f"/><rect x="0" y="630" width="30" height="30" fill="#7b777f"/><rect x="30" y="630" width="30" height="30" fill="#7b777f"/><rect x="60" y="630" width="30" height="30" fill="#7b7780"/><rect x="90" y="630" width="30" height="30" fill="#7b777f"/><rect x="120" y="630" width="30" height="30" fill="#78757c"/><rect x="150" y="630" width="30" height="30" fill="#736f77"/><rect x="180" y="630" width="30" height="30" fill="#6d6a71"/><rect x="210" y="630" width="30" height="30" fill="#6b686f"/><rect x="240" y="630" width="30" height="30" fill="#6c686f"/><rect x="270" y="630" width="30" height="30" fill="#6c6870"/><rect x="300" y="630" width="30" height="30" fill="#6b686f"/><rect x="330" y="630" width="30" height="30" fill="#6a676e"/><rect x="360" y="630" width="30" height="30" fill="#69656c"/><rect x="390" y="630" width="30" height="30" fill="#67646a"/><rect x="420" y="630" width="30" height="30" fill="#656168"/><rect x="450" y="630" width="30" height="30" fill="#625f65"/><rect x="480" y="630" width="30" height="30" fill="#605d63"/><rect x="510" y="630" width="30" height="30" fill="#5e5b61"/><rect x="540" y="630" width="30" height="30" fill="#5d5a60"/><rect x="570" y="630" width="30" height="30" fill="#5c595f"/><rect x="600" y="630" width="30" height="30" fill="#5c595f"/><rect x="630" y="630" width="30" height="30" fill="#5c595f"/><rect x="660" y="630" width="30" height="30" fill="#5c595f"/><rect x="690" y="630" width="30" height="30" fill="#5c595f"/><rect x="720" y="630" width="30" height="30" fill="#5c595f"/><rect x="750" y="630" width="30" height="30" fill="#5c595f"/><rect x="780" y="630" width="30" height="30" fill="#5c595f"/><rect x="810" y="630" width="30" height="30" fill="#5b585f"/><rect x="840" y="630" width="30" height="30" fill="#5b585f"/></g></svg>
<div id="st"><svg width="800" height="600" viewBox="0 0 800 600" style="position:absolute;left:0;top:0"><defs><linearGradient id="sg0" x1="0" y1="0" x2="0" y2="1"><stop offset="0.0000" stop-color="#000" stop-opacity="0"/><stop offset="0.3977" stop-color="#000" stop-opacity="0.1"/><stop offset="0.8182" stop-color="#000" stop-opacity="0.12"/><stop offset="1.0000" stop-color="#000" stop-opacity="0"/></linearGradient><linearGradient id="sm0g" x1="0" y1="0" x2="1" y2="0"><stop offset="0.0" stop-color="#fff" stop-opacity="0"/><stop offset="0.15" stop-color="#fff" stop-opacity="1"/><stop offset="0.6" stop-color="#fff" stop-opacity="1"/><stop offset="0.8" stop-color="#fff" stop-opacity="0"/></linearGradient><mask id="sm0" maskUnits="userSpaceOnUse" x="-200" y="-190" width="1100" height="216"><rect x="-200" y="-190" width="1100" height="216" fill="url(#sm0g)"/></mask><filter id="sf0" x="-5%" y="-50%" width="110%" height="200%"><feGaussianBlur stdDeviation="4"/></filter><linearGradient id="sg1" x1="0" y1="0" x2="0" y2="1"><stop offset="0.0000" stop-color="#fff" stop-opacity="0"/><stop offset="0.0444" stop-color="#fff" stop-opacity="0.15"/><stop offset="0.3333" stop-color="#fff" stop-opacity="0.11"/><stop offset="0.8000" stop-color="#fff" stop-opacity="0.08"/><stop offset="1.0000" stop-color="#fff" stop-opacity="0"/></linearGradient><linearGradient id="sm1g" x1="0" y1="0" x2="1" y2="0"><stop offset="0.0" stop-color="#fff" stop-opacity="0"/><stop offset="0.33" stop-color="#fff" stop-opacity="1"/><stop offset="0.78" stop-color="#fff" stop-opacity="1"/><stop offset="0.97" stop-color="#fff" stop-opacity="0"/></linearGradient><mask id="sm1" maskUnits="userSpaceOnUse" x="150" y="-20" width="570" height="85"><rect x="150" y="-20" width="570" height="85" fill="url(#sm1g)"/></mask><filter id="sf1" x="-5%" y="-50%" width="110%" height="200%"><feGaussianBlur stdDeviation="2"/></filter><linearGradient id="sg2" x1="0" y1="0" x2="0" y2="1"><stop offset="0.0000" stop-color="#fff" stop-opacity="0"/><stop offset="0.3913" stop-color="#fff" stop-opacity="0.08"/><stop offset="0.5652" stop-color="#fff" stop-opacity="0.08"/><stop offset="1.0000" stop-color="#fff" stop-opacity="0"/></linearGradient><linearGradient id="sm2g" x1="0" y1="0" x2="1" y2="0"><stop offset="0.2" stop-color="#fff" stop-opacity="0"/><stop offset="0.4" stop-color="#fff" stop-opacity="1"/><stop offset="0.6" stop-color="#fff" stop-opacity="1"/><stop offset="0.85" stop-color="#fff" stop-opacity="0"/></linearGradient><mask id="sm2" maskUnits="userSpaceOnUse" x="-200" y="-42" width="600" height="86"><rect x="-200" y="-42" width="600" height="86" fill="url(#sm2g)"/></mask><filter id="sf2" x="-5%" y="-50%" width="110%" height="200%"><feGaussianBlur stdDeviation="3"/></filter><linearGradient id="sg3" x1="0" y1="0" x2="0" y2="1"><stop offset="0.0000" stop-color="#fff" stop-opacity="0"/><stop offset="0.5161" stop-color="#fff" stop-opacity="0.07"/><stop offset="0.9161" stop-color="#fff" stop-opacity="0.11"/><stop offset="0.9677" stop-color="#fff" stop-opacity="0.15"/><stop offset="1.0000" stop-color="#fff" stop-opacity="0"/></linearGradient><linearGradient id="sm3g" x1="0" y1="0" x2="1" y2="0"><stop offset="0.0" stop-color="#fff" stop-opacity="0"/><stop offset="0.07" stop-color="#fff" stop-opacity="1"/><stop offset="0.75" stop-color="#fff" stop-opacity="1"/><stop offset="0.98" stop-color="#fff" stop-opacity="0"/></linearGradient><mask id="sm3" maskUnits="userSpaceOnUse" x="-20" y="-95" width="320" height="117.5"><rect x="-20" y="-95" width="320" height="117.5" fill="url(#sm3g)"/></mask><filter id="sf3" x="-5%" y="-50%" width="110%" height="200%"><feGaussianBlur stdDeviation="1.5"/></filter><linearGradient id="sg4" x1="0" y1="0" x2="0" y2="1"><stop offset="0.0000" stop-color="#fff" stop-opacity="0"/><stop offset="0.8889" stop-color="#fff" stop-opacity="0.07"/><stop offset="0.9524" stop-color="#fff" stop-opacity="0.09"/><stop offset="1.0000" stop-color="#fff" stop-opacity="0"/></linearGradient><linearGradient id="sm4g" x1="0" y1="0" x2="1" y2="0"><stop offset="0.0" stop-color="#fff" stop-opacity="0"/><stop offset="0.3" stop-color="#fff" stop-opacity="1"/><stop offset="0.7" stop-color="#fff" stop-opacity="1"/><stop offset="0.9" stop-color="#fff" stop-opacity="0"/></linearGradient><mask id="sm4" maskUnits="userSpaceOnUse" x="-150" y="-80" width="550" height="103"><rect x="-150" y="-80" width="550" height="103" fill="url(#sm4g)"/></mask><filter id="sf4" x="-5%" y="-50%" width="110%" height="200%"><feGaussianBlur stdDeviation="2"/></filter></defs><g transform="translate(52 0) rotate(37.5)"><g mask="url(#sm0)"><rect x="-200" y="-170" width="1100" height="176" fill="url(#sg0)" filter="url(#sf0)"/></g></g><g transform="translate(60 0) rotate(37.5)"><g mask="url(#sm1)"><rect x="150" y="0" width="570" height="45" fill="url(#sg1)" filter="url(#sf1)"/></g></g><g transform="translate(230 12) rotate(28.8)"><g mask="url(#sm2)"><rect x="-200" y="-22" width="600" height="46" fill="url(#sg2)" filter="url(#sf2)"/></g></g><g transform="translate(0 413) rotate(46.4)"><g mask="url(#sm3)"><rect x="-20" y="-75" width="320" height="77.5" fill="url(#sg3)" filter="url(#sf3)"/></g></g><g transform="translate(143 410) rotate(40)"><g mask="url(#sm4)"><rect x="-150" y="-60" width="550" height="63" fill="url(#sg4)" filter="url(#sf4)"/></g></g></svg></div>
<svg width="800" height="600" style="position:absolute;left:0;top:0"><path d="M58.6 161.6 H70.4 L69 172.4 H56.2 Z" fill="none" stroke="#f2f0f4" stroke-opacity="0.9" stroke-width="1.2"/><path d="M61 164.3 H66.9 L66.2 169.8 H60.2 Z" fill="#fff"/></svg>
<div id="txt">схемы контроля данных</div>
<svg class="d" width="800" height="600" viewBox="0 0 800 600">
<defs><filter id="nb" x="-5%" y="-5%" width="110%" height="110%"><feGaussianBlur stdDeviation="0.55"/></filter>
<filter id="eb" x="-5%" y="-5%" width="110%" height="110%"><feGaussianBlur stdDeviation="0.35"/></filter></defs>
<rect x="61" y="199" width="207" height="211" fill="#2a2830" fill-opacity="0.22"/>
<rect x="62" y="200" width="205" height="209" fill="#fff"/>
<g filter="url(#nb)">
<path d="M71 210.4 H258.5" fill="none" stroke="#c9c6ba" stroke-width="0.9"/>
<path d="M70 210.4 l2.5 -1.2 v2.4 Z M259.5 210.4 l-2.5 -1.2 v2.4 Z" fill="#aaa"/>
<text x="154.4" y="209.3" font-size="3.0" fill="#333" textLength="9.4" lengthAdjust="spacingAndGlyphs" text-anchor="start">Network</text>
<path d="M85 210.4 V324.4 H225.3 V338" fill="none" stroke="#d2cec0" stroke-width="0.75"/>
<text x="150.8" y="323.3" font-size="3.0" fill="#333" textLength="13" lengthAdjust="spacingAndGlyphs" text-anchor="start">RS-485 BUS</text>
<rect x="86" y="215.5" width="13" height="11" fill="#e6e2d4" stroke="#c8c3b0" stroke-width="0.6"/>
<rect x="88" y="217" width="8" height="6" fill="#cfc9b6"/>
<path d="M81 227 L101 227 L104 230 L83 230 Z" fill="#ebe8dc" stroke="#cdc8b6" stroke-width="0.5"/>
<rect x="70.5" y="222" width="10" height="6" fill="#f1efe6" stroke="#c8c3b0" stroke-width="0.5"/>
<rect x="73" y="220.5" width="5" height="2" fill="#e0dccd"/>
<text x="102.3" y="223.4" font-size="2.8" fill="#444" textLength="2.2" lengthAdjust="spacingAndGlyphs" text-anchor="start">PC</text>
<rect x="78.3" y="253.2" width="13.1" height="3" fill="#c2bea6"/>
<text x="93.5" y="253.8" font-size="2.6" fill="#555" textLength="23" lengthAdjust="spacingAndGlyphs" text-anchor="start">RS-422/485 TO 232</text><text x="93.5" y="256.9" font-size="2.6" fill="#555" textLength="10" lengthAdjust="spacingAndGlyphs" text-anchor="start">Converter</text>
<path d="M151.5 210.4 V220.7" fill="none" stroke="#d2cec0" stroke-width="0.75"/>
<rect x="146.7" y="220.7" width="11.3" height="3.3" fill="#eeece4" stroke="#c9c5b4" stroke-width="0.6"/>
<text x="160.1" y="223.2" font-size="2.8" fill="#444" textLength="4.2" lengthAdjust="spacingAndGlyphs" text-anchor="start">Hub</text>
<path d="M219.4 210.4 V220.7" fill="none" stroke="#d2cec0" stroke-width="0.75"/>
<rect x="213.9" y="220.7" width="11.3" height="3.3" fill="#eeece4" stroke="#c9c5b4" stroke-width="0.6"/>
<text x="227.3" y="223.2" font-size="2.8" fill="#444" textLength="4.2" lengthAdjust="spacingAndGlyphs" text-anchor="start">Hub</text>
<path d="M135 243 V229.4 H151 V224 M157.7 243 V229.4 H153 M179.8 240.6 V227.3 H155 V224" fill="none" stroke="#d2cec0" stroke-width="0.75"/>
<path d="M202.4 241 V229.4 H218 V224 M225 241 V229.4 H221 M248 241 V227.3 H222 V224" fill="none" stroke="#d2cec0" stroke-width="0.75"/>
<rect x="130" y="248.9" width="11.3" height="11" rx="1.5" fill="#84827c"/><rect x="132" y="256.9" width="7.300000000000001" height="1" fill="#b9b7b2"/>
<g font-weight="bold"><text x="132.6" y="244.3" font-size="2.8" fill="#4aa8d2" textLength="6" lengthAdjust="spacingAndGlyphs" text-anchor="start">ACU 1</text><text x="125.1" y="247.2" font-size="2.8" fill="#4aa8d2" textLength="21" lengthAdjust="spacingAndGlyphs" text-anchor="start">CBA-FS/DT-PW-T</text></g>
<rect x="152.4" y="248.9" width="11.3" height="11" rx="1.5" fill="#84827c"/><rect x="154.4" y="256.9" width="7.300000000000001" height="1" fill="#b9b7b2"/>
<g font-weight="bold"><text x="155.0" y="244.3" font-size="2.8" fill="#4aa8d2" textLength="6" lengthAdjust="spacingAndGlyphs" text-anchor="start">ACU 1</text><text x="147.5" y="247.2" font-size="2.8" fill="#4aa8d2" textLength="21" lengthAdjust="spacingAndGlyphs" text-anchor="start">CBA-FS/DT-PW-T</text></g>
<rect x="174.9" y="248.9" width="11.3" height="11" rx="1.5" fill="#84827c"/><rect x="176.9" y="256.9" width="7.300000000000001" height="1" fill="#b9b7b2"/>
<g font-weight="bold"><text x="177.5" y="244.3" font-size="2.8" fill="#4aa8d2" textLength="6" lengthAdjust="spacingAndGlyphs" text-anchor="start">ACU 1</text><text x="170.0" y="247.2" font-size="2.8" fill="#4aa8d2" textLength="21" lengthAdjust="spacingAndGlyphs" text-anchor="start">CBA-FS/DT-PW-T</text></g>
<rect x="198.1" y="248.9" width="11.3" height="11" rx="1.5" fill="#84827c"/><rect x="200.1" y="256.9" width="7.300000000000001" height="1" fill="#b9b7b2"/>
<g font-weight="bold"><text x="200.7" y="244.3" font-size="2.8" fill="#4aa8d2" textLength="6" lengthAdjust="spacingAndGlyphs" text-anchor="start">ACU 1</text><text x="193.2" y="247.2" font-size="2.8" fill="#4aa8d2" textLength="21" lengthAdjust="spacingAndGlyphs" text-anchor="start">CBA-FS/DT-PW-T</text></g>
<rect x="220.1" y="248.9" width="11.3" height="11" rx="1.5" fill="#84827c"/><rect x="222.1" y="256.9" width="7.300000000000001" height="1" fill="#b9b7b2"/>
<g font-weight="bold"><text x="222.7" y="244.3" font-size="2.8" fill="#4aa8d2" textLength="6" lengthAdjust="spacingAndGlyphs" text-anchor="start">ACU 1</text><text x="215.2" y="247.2" font-size="2.8" fill="#4aa8d2" textLength="21" lengthAdjust="spacingAndGlyphs" text-anchor="start">CBA-FS/DT-PW-T</text></g>
<rect x="242.1" y="248.9" width="11.3" height="11" rx="1.5" fill="#84827c"/><rect x="244.1" y="256.9" width="7.300000000000001" height="1" fill="#b9b7b2"/>
<g font-weight="bold"><text x="244.7" y="244.3" font-size="2.8" fill="#4aa8d2" textLength="6" lengthAdjust="spacingAndGlyphs" text-anchor="start">ACU 1</text><text x="237.2" y="247.2" font-size="2.8" fill="#4aa8d2" textLength="21" lengthAdjust="spacingAndGlyphs" text-anchor="start">CBA-FS/DT-PW-T</text></g>
<path d="M132.9 260 V273.8 M93 277.8 V273.8 H143.2 V277.8 M110 273.8 V277.8 M126.6 273.8 V277.8" fill="none" stroke="#d2cec0" stroke-width="0.75"/>
<path d="M89.5 281.8 V277.8 H98.5 V281.8" fill="none" stroke="#d2cec0" stroke-width="0.7"/>
<path d="M93.5 277.8 V280.8" fill="none" stroke="#d2cec0" stroke-width="0.6"/>
<rect x="88.6" y="283.3" width="2" height="3.5" fill="#6f6d66"/>
<rect x="92.8" y="282.3" width="1.5" height="2" fill="#555"/>
<rect x="97.4" y="283.3" width="1.4" height="3.2" fill="#b4cad8"/>
<rect x="89.0" y="290.3" width="1.3" height="10.5" fill="#c9c8c4"/>
<rect x="93.0" y="286.8" width="1.3" height="10" fill="#cfcecb"/>
<rect x="97.5" y="288.3" width="1.3" height="10.5" fill="#c9c8c4"/>
<rect x="89.2" y="302.40000000000003" width="10.6" height="3.6" fill="#f4f9fc" stroke="#c6dce8" stroke-width="0.6"/>
<rect x="91.8" y="303.7" width="5.5" height="1" fill="#58b0d8" opacity="0.45"/>
<path d="M106 281.8 V277.8 H115 V281.8" fill="none" stroke="#d2cec0" stroke-width="0.7"/>
<path d="M110 277.8 V280.8" fill="none" stroke="#d2cec0" stroke-width="0.6"/>
<rect x="105.1" y="283.3" width="2" height="3.5" fill="#6f6d66"/>
<rect x="109.3" y="282.3" width="1.5" height="2" fill="#555"/>
<rect x="113.9" y="283.3" width="1.4" height="3.2" fill="#b4cad8"/>
<rect x="105.5" y="290.3" width="1.3" height="10.5" fill="#c9c8c4"/>
<rect x="109.5" y="286.8" width="1.3" height="10" fill="#cfcecb"/>
<rect x="114" y="288.3" width="1.3" height="10.5" fill="#c9c8c4"/>
<rect x="105.7" y="302.40000000000003" width="10.6" height="3.6" fill="#f4f9fc" stroke="#c6dce8" stroke-width="0.6"/>
<rect x="108.3" y="303.7" width="5.5" height="1" fill="#58b0d8" opacity="0.45"/>
<path d="M122.5 281.8 V277.8 H131.5 V281.8" fill="none" stroke="#d2cec0" stroke-width="0.7"/>
<path d="M126.5 277.8 V280.8" fill="none" stroke="#d2cec0" stroke-width="0.6"/>
<rect x="121.6" y="283.3" width="2" height="3.5" fill="#6f6d66"/>
<rect x="125.8" y="282.3" width="1.5" height="2" fill="#555"/>
<rect x="130.4" y="283.3" width="1.4" height="3.2" fill="#b4cad8"/>
<rect x="122.0" y="290.3" width="1.3" height="10.5" fill="#c9c8c4"/>
<rect x="126.0" y="286.8" width="1.3" height="10" fill="#cfcecb"/>
<rect x="130.5" y="288.3" width="1.3" height="10.5" fill="#c9c8c4"/>
<rect x="122.2" y="302.40000000000003" width="10.6" height="3.6" fill="#f4f9fc" stroke="#c6dce8" stroke-width="0.6"/>
<rect x="124.8" y="303.7" width="5.5" height="1" fill="#58b0d8" opacity="0.45"/>
<path d="M139 281.8 V277.8 H148 V281.8" fill="none" stroke="#d2cec0" stroke-width="0.7"/>
<path d="M143 277.8 V280.8" fill="none" stroke="#d2cec0" stroke-width="0.6"/>
<rect x="138.1" y="283.3" width="2" height="3.5" fill="#6f6d66"/>
<rect x="142.3" y="282.3" width="1.5" height="2" fill="#555"/>
<rect x="146.9" y="283.3" width="1.4" height="3.2" fill="#b4cad8"/>
<rect x="138.5" y="290.3" width="1.3" height="10.5" fill="#c9c8c4"/>
<rect x="142.5" y="286.8" width="1.3" height="10" fill="#cfcecb"/>
<rect x="147" y="288.3" width="1.3" height="10.5" fill="#c9c8c4"/>
<rect x="138.7" y="302.40000000000003" width="10.6" height="3.6" fill="#f4f9fc" stroke="#c6dce8" stroke-width="0.6"/>
<rect x="141.3" y="303.7" width="5.5" height="1" fill="#58b0d8" opacity="0.45"/>
<path d="M136 260 V265 H156.3 V275 M138 260 V268 H168.8 V275" fill="none" stroke="#d2cec0" stroke-width="0.75"/>
<path d="M154.3 278.8 V275.8 H158.3 V278.8" fill="none" stroke="#d2cec0" stroke-width="0.7"/>
<rect x="152.8" y="278.6" width="3.2" height="4.3" fill="#d3d0bf"/>
<rect x="156.8" y="278.6" width="3.2" height="4.3" fill="#d3d0bf"/>
<rect x="153.70000000000002" y="284.3" width="1.3" height="13" fill="#cbcac6"/>
<rect x="157.70000000000002" y="284.3" width="1.3" height="13" fill="#cbcac6"/>
<path d="M166.7 278.8 V275.8 H170.7 V278.8" fill="none" stroke="#d2cec0" stroke-width="0.7"/>
<rect x="165.2" y="278.6" width="3.2" height="4.3" fill="#d3d0bf"/>
<rect x="169.2" y="278.6" width="3.2" height="4.3" fill="#d3d0bf"/>
<rect x="166.1" y="284.3" width="1.3" height="13" fill="#cbcac6"/>
<rect x="170.1" y="284.3" width="1.3" height="13" fill="#cbcac6"/>
<path d="M200.2 260 V277.8 M203 260 V264.8 H231.5 V275 M205 260 V268.3 H219.8 V275" fill="none" stroke="#d2cec0" stroke-width="0.75"/>
<path d="M198 281.8 V277.8 H207 V281.8" fill="none" stroke="#d2cec0" stroke-width="0.7"/>
<path d="M202 277.8 V280.8" fill="none" stroke="#d2cec0" stroke-width="0.6"/>
<rect x="197.1" y="283.3" width="2" height="3.5" fill="#6f6d66"/>
<rect x="201.3" y="282.3" width="1.5" height="2" fill="#555"/>
<rect x="205.9" y="283.3" width="1.4" height="3.2" fill="#b4cad8"/>
<rect x="197.5" y="290.3" width="1.3" height="10.5" fill="#c9c8c4"/>
<rect x="201.5" y="286.8" width="1.3" height="10" fill="#cfcecb"/>
<rect x="206" y="288.3" width="1.3" height="10.5" fill="#c9c8c4"/>
<rect x="197.7" y="302.40000000000003" width="10.6" height="3.6" fill="#f4f9fc" stroke="#c6dce8" stroke-width="0.6"/>
<rect x="200.3" y="303.7" width="5.5" height="1" fill="#58b0d8" opacity="0.45"/>
<path d="M217.7 278.8 V275.8 H221.7 V278.8" fill="none" stroke="#d2cec0" stroke-width="0.7"/>
<rect x="216.2" y="278.6" width="3.2" height="4.3" fill="#d3d0bf"/>
<rect x="220.2" y="278.6" width="3.2" height="4.3" fill="#d3d0bf"/>
<rect x="217.1" y="284.3" width="1.3" height="13" fill="#cbcac6"/>
<rect x="221.1" y="284.3" width="1.3" height="13" fill="#cbcac6"/>
<path d="M229.7 278.8 V275.8 H233.7 V278.8" fill="none" stroke="#d2cec0" stroke-width="0.7"/>
<rect x="228.2" y="278.6" width="3.2" height="4.3" fill="#d3d0bf"/>
<rect x="232.2" y="278.6" width="3.2" height="4.3" fill="#d3d0bf"/>
<rect x="229.1" y="284.3" width="1.3" height="13" fill="#cbcac6"/>
<rect x="233.1" y="284.3" width="1.3" height="13" fill="#cbcac6"/>
<path d="M120.1 324.4 V338 M157.2 324.4 V338" fill="none" stroke="#d2cec0" stroke-width="0.75"/>
<rect x="115" y="344.4" width="11.7" height="11.3" rx="1.5" fill="#84827c"/><rect x="117" y="352.7" width="7.699999999999999" height="1" fill="#b9b7b2"/>
<g font-weight="bold"><text x="117.8" y="339.8" font-size="2.8" fill="#4aa8d2" textLength="6" lengthAdjust="spacingAndGlyphs" text-anchor="start">ACU 1</text><text x="110.3" y="342.7" font-size="2.8" fill="#4aa8d2" textLength="21" lengthAdjust="spacingAndGlyphs" text-anchor="start">CBA-FS/DT-PW-T</text></g>
<rect x="152.2" y="344.4" width="11.7" height="11.3" rx="1.5" fill="#84827c"/><rect x="154.2" y="352.7" width="7.699999999999999" height="1" fill="#b9b7b2"/>
<g font-weight="bold"><text x="155.0" y="339.8" font-size="2.8" fill="#4aa8d2" textLength="6" lengthAdjust="spacingAndGlyphs" text-anchor="start">ACU 1</text><text x="147.5" y="342.7" font-size="2.8" fill="#4aa8d2" textLength="21" lengthAdjust="spacingAndGlyphs" text-anchor="start">CBA-FS/DT-PW-T</text></g>
<rect x="220.2" y="344.4" width="11.7" height="11.3" rx="1.5" fill="#84827c"/><rect x="222.2" y="352.7" width="7.699999999999999" height="1" fill="#b9b7b2"/>
<g font-weight="bold"><text x="223.0" y="339.8" font-size="2.8" fill="#4aa8d2" textLength="6" lengthAdjust="spacingAndGlyphs" text-anchor="start">ACU 1</text><text x="215.5" y="342.7" font-size="2.8" fill="#4aa8d2" textLength="21" lengthAdjust="spacingAndGlyphs" text-anchor="start">CBA-FS/DT-PW-T</text></g>
<path d="M118.5 355.7 V369.9 M77.9 373.9 V369.9 H130.2 V373.9 M95.8 369.9 V373.9 M112.3 369.9 V373.9" fill="none" stroke="#d2cec0" stroke-width="0.75"/>
<path d="M74.5 377.9 V373.9 H83.5 V377.9" fill="none" stroke="#d2cec0" stroke-width="0.7"/>
<path d="M78.5 373.9 V376.9" fill="none" stroke="#d2cec0" stroke-width="0.6"/>
<rect x="73.6" y="379.4" width="2" height="3.5" fill="#6f6d66"/>
<rect x="77.8" y="378.4" width="1.5" height="2" fill="#555"/>
<rect x="82.4" y="379.4" width="1.4" height="3.2" fill="#b4cad8"/>
<rect x="74.0" y="386.4" width="1.3" height="10.5" fill="#c9c8c4"/>
<rect x="78.0" y="382.9" width="1.3" height="10" fill="#cfcecb"/>
<rect x="82.5" y="384.4" width="1.3" height="10.5" fill="#c9c8c4"/>
<rect x="74.2" y="398.5" width="10.6" height="3.6" fill="#f4f9fc" stroke="#c6dce8" stroke-width="0.6"/>
<rect x="76.8" y="399.79999999999995" width="5.5" height="1" fill="#58b0d8" opacity="0.45"/>
<path d="M91.5 377.9 V373.9 H100.5 V377.9" fill="none" stroke="#d2cec0" stroke-width="0.7"/>
<path d="M95.5 373.9 V376.9" fill="none" stroke="#d2cec0" stroke-width="0.6"/>
<rect x="90.6" y="379.4" width="2" height="3.5" fill="#6f6d66"/>
<rect x="94.8" y="378.4" width="1.5" height="2" fill="#555"/>
<rect x="99.4" y="379.4" width="1.4" height="3.2" fill="#b4cad8"/>
<rect x="91.0" y="386.4" width="1.3" height="10.5" fill="#c9c8c4"/>
<rect x="95.0" y="382.9" width="1.3" height="10" fill="#cfcecb"/>
<rect x="99.5" y="384.4" width="1.3" height="10.5" fill="#c9c8c4"/>
<rect x="91.2" y="398.5" width="10.6" height="3.6" fill="#f4f9fc" stroke="#c6dce8" stroke-width="0.6"/>
<rect x="93.8" y="399.79999999999995" width="5.5" height="1" fill="#58b0d8" opacity="0.45"/>
<path d="M109 377.9 V373.9 H118 V377.9" fill="none" stroke="#d2cec0" stroke-width="0.7"/>
<path d="M113 373.9 V376.9" fill="none" stroke="#d2cec0" stroke-width="0.6"/>
<rect x="108.1" y="379.4" width="2" height="3.5" fill="#6f6d66"/>
<rect x="112.3" y="378.4" width="1.5" height="2" fill="#555"/>
<rect x="116.9" y="379.4" width="1.4" height="3.2" fill="#b4cad8"/>
<rect x="108.5" y="386.4" width="1.3" height="10.5" fill="#c9c8c4"/>
<rect x="112.5" y="382.9" width="1.3" height="10" fill="#cfcecb"/>
<rect x="117" y="384.4" width="1.3" height="10.5" fill="#c9c8c4"/>
<rect x="108.7" y="398.5" width="10.6" height="3.6" fill="#f4f9fc" stroke="#c6dce8" stroke-width="0.6"/>
<rect x="111.3" y="399.79999999999995" width="5.5" height="1" fill="#58b0d8" opacity="0.45"/>
<path d="M126 377.9 V373.9 H135 V377.9" fill="none" stroke="#d2cec0" stroke-width="0.7"/>
<path d="M130 373.9 V376.9" fill="none" stroke="#d2cec0" stroke-width="0.6"/>
<rect x="125.1" y="379.4" width="2" height="3.5" fill="#6f6d66"/>
<rect x="129.3" y="378.4" width="1.5" height="2" fill="#555"/>
<rect x="133.9" y="379.4" width="1.4" height="3.2" fill="#b4cad8"/>
<rect x="125.5" y="386.4" width="1.3" height="10.5" fill="#c9c8c4"/>
<rect x="129.5" y="382.9" width="1.3" height="10" fill="#cfcecb"/>
<rect x="134" y="384.4" width="1.3" height="10.5" fill="#c9c8c4"/>
<rect x="125.7" y="398.5" width="10.6" height="3.6" fill="#f4f9fc" stroke="#c6dce8" stroke-width="0.6"/>
<rect x="128.3" y="399.79999999999995" width="5.5" height="1" fill="#58b0d8" opacity="0.45"/>
<path d="M121.5 355.7 V363 H154.9 V372 M123.5 355.7 V359.6 H168.7 V372" fill="none" stroke="#d2cec0" stroke-width="0.75"/>
<path d="M152.5 375 V372 H156.5 V375" fill="none" stroke="#d2cec0" stroke-width="0.7"/>
<rect x="151" y="374.8" width="3.2" height="4.3" fill="#d3d0bf"/>
<rect x="155" y="374.8" width="3.2" height="4.3" fill="#d3d0bf"/>
<rect x="151.9" y="380.5" width="1.3" height="13" fill="#cbcac6"/>
<rect x="155.9" y="380.5" width="1.3" height="13" fill="#cbcac6"/>
<path d="M166.5 375 V372 H170.5 V375" fill="none" stroke="#d2cec0" stroke-width="0.7"/>
<rect x="165" y="374.8" width="3.2" height="4.3" fill="#d3d0bf"/>
<rect x="169" y="374.8" width="3.2" height="4.3" fill="#d3d0bf"/>
<rect x="165.9" y="380.5" width="1.3" height="13" fill="#cbcac6"/>
<rect x="169.9" y="380.5" width="1.3" height="13" fill="#cbcac6"/>
</g>
<rect x="430" y="80" width="336" height="226" fill="#2a2830" fill-opacity="0.22"/>
<rect x="431" y="81" width="334" height="224" fill="#fff"/>
<g font-family="Liberation Sans, sans-serif" filter="url(#eb)">
<path d="M700.5 141.5 V108.8 H550" fill="none" stroke="#333" stroke-width="1.1"/>
<path d="M540.5 108.8 L551.5 105.55 L551.5 112.05 Z" fill="#111"/>
<path d="M636 186.3 H565" fill="none" stroke="#333" stroke-width="1.1"/>
<path d="M555.3 186.3 L566.3 183.05 L566.3 189.55 Z" fill="#111"/>
<path d="M700.5 220.7 V268.3 H557" fill="none" stroke="#333" stroke-width="1.1"/>
<path d="M546.8 268.3 L557.8 265.05 L557.8 271.55 Z" fill="#111"/>
<rect x="437.5" y="81.8" width="101.5" height="14.200000000000003" fill="#c9c9c9"/>
<rect x="437.5" y="81.8" width="101.5" height="53.89999999999999" fill="none" stroke="#555" stroke-width="1"/>
<line x1="437.5" y1="96" x2="539" y2="96" stroke="#555" stroke-width="1"/>
<line x1="437.5" y1="110.3" x2="539" y2="110.3" stroke="#555" stroke-width="1"/>
<line x1="465.5" y1="96" x2="465.5" y2="135.7" stroke="#555" stroke-width="1"/>
<text x="474.5" y="90.8" font-size="7.6" font-weight="normal" fill="#444" textLength="27.30000000000001" lengthAdjust="spacingAndGlyphs">Tabel</text>
<text x="442.3" y="105" font-size="7.6" font-weight="bold" fill="#1e1e1e" textLength="14.0" lengthAdjust="spacingAndGlyphs">PK</text>
<text x="469.8" y="105" font-size="7.6" font-weight="bold" fill="#1e1e1e" textLength="38.19999999999999" lengthAdjust="spacingAndGlyphs">idTabel</text><line x1="469.8" y1="106.4" x2="508.0" y2="106.4" stroke="#1e1e1e" stroke-width="0.8"/>
<text x="469.8" y="122" font-size="7.6" font-weight="bold" fill="#1e1e1e" textLength="60" lengthAdjust="spacingAndGlyphs">Description</text>
<text x="469.8" y="130.5" font-size="7.6" font-weight="bold" fill="#1e1e1e" textLength="22.5" lengthAdjust="spacingAndGlyphs">Date</text>
<rect x="431.9" y="159.4" width="122.60000000000002" height="13.599999999999994" fill="#c9c9c9"/>
<rect x="431.9" y="159.4" width="122.60000000000002" height="53.69999999999999" fill="none" stroke="#555" stroke-width="1"/>
<line x1="431.9" y1="173" x2="554.5" y2="173" stroke="#555" stroke-width="1"/>
<line x1="431.9" y1="188.3" x2="554.5" y2="188.3" stroke="#555" stroke-width="1"/>
<line x1="459.5" y1="173" x2="459.5" y2="213.1" stroke="#555" stroke-width="1"/>
<text x="459.2" y="168.7" font-size="7.6" font-weight="normal" fill="#444" textLength="67.30000000000001" lengthAdjust="spacingAndGlyphs">PaymentType</text>
<text x="436.8" y="182.7" font-size="7.6" font-weight="bold" fill="#1e1e1e" textLength="14.0" lengthAdjust="spacingAndGlyphs">PK</text>
<text x="463.9" y="182.7" font-size="7.6" font-weight="bold" fill="#1e1e1e" textLength="81.0" lengthAdjust="spacingAndGlyphs">idPaymentType</text><line x1="463.9" y1="184.1" x2="544.9" y2="184.1" stroke="#1e1e1e" stroke-width="0.8"/>
<text x="463.9" y="199.3" font-size="7.6" font-weight="bold" fill="#1e1e1e" textLength="29.2" lengthAdjust="spacingAndGlyphs">Name</text>
<text x="463.9" y="208" font-size="7.6" font-weight="bold" fill="#1e1e1e" textLength="26.6" lengthAdjust="spacingAndGlyphs">Code</text>
<rect x="434.1" y="232.7" width="111.5" height="14.0" fill="#c9c9c9"/>
<rect x="434.1" y="232.7" width="111.5" height="71.40000000000003" fill="none" stroke="#555" stroke-width="1"/>
<line x1="434.1" y1="246.7" x2="545.6" y2="246.7" stroke="#555" stroke-width="1"/>
<line x1="434.1" y1="261.3" x2="545.6" y2="261.3" stroke="#555" stroke-width="1"/>
<line x1="461.8" y1="246.7" x2="461.8" y2="304.1" stroke="#555" stroke-width="1"/>
<text x="472.3" y="242" font-size="7.6" font-weight="normal" fill="#444" textLength="34.5" lengthAdjust="spacingAndGlyphs">Person</text>
<text x="438.9" y="256" font-size="7.6" font-weight="bold" fill="#1e1e1e" textLength="14.5" lengthAdjust="spacingAndGlyphs">PK</text>
<text x="466.5" y="256" font-size="7.6" font-weight="bold" fill="#1e1e1e" textLength="46.700000000000045" lengthAdjust="spacingAndGlyphs">idPerson</text><line x1="466.5" y1="257.4" x2="513.2" y2="257.4" stroke="#1e1e1e" stroke-width="0.8"/>
<text x="466.5" y="272.6" font-size="7.6" font-weight="bold" fill="#1e1e1e" textLength="46.7" lengthAdjust="spacingAndGlyphs">Surname</text>
<text x="466.5" y="281" font-size="7.6" font-weight="bold" fill="#1e1e1e" textLength="28.9" lengthAdjust="spacingAndGlyphs">Name</text>
<text x="466.5" y="290.1" font-size="7.6" font-weight="bold" fill="#1e1e1e" textLength="63" lengthAdjust="spacingAndGlyphs">FatherName</text>
<text x="466.5" y="298.5" font-size="7.6" font-weight="bold" fill="#1e1e1e" textLength="69.5" lengthAdjust="spacingAndGlyphs">TabelNumber</text>
<rect x="636.1" y="141.5" width="127.79999999999995" height="13.300000000000011" fill="#c9c9c9"/>
<rect x="636.1" y="141.5" width="127.79999999999995" height="79.19999999999999" fill="none" stroke="#555" stroke-width="1"/>
<line x1="636.1" y1="154.8" x2="763.9" y2="154.8" stroke="#555" stroke-width="1"/>
<line x1="636.1" y1="169.5" x2="763.9" y2="169.5" stroke="#555" stroke-width="1"/>
<line x1="668.5" y1="154.8" x2="668.5" y2="220.7" stroke="#555" stroke-width="1"/>
<text x="675" y="149.9" font-size="7.6" font-weight="normal" fill="#444" textLength="49" lengthAdjust="spacingAndGlyphs">TabelFact</text>
<text x="640.9" y="164.4" font-size="7.6" font-weight="bold" fill="#1e1e1e" textLength="14.0" lengthAdjust="spacingAndGlyphs">PK</text>
<text x="673.2" y="164.4" font-size="7.6" font-weight="bold" fill="#1e1e1e" textLength="61.299999999999955" lengthAdjust="spacingAndGlyphs">idTabelFact</text><line x1="673.2" y1="165.8" x2="734.5" y2="165.8" stroke="#1e1e1e" stroke-width="0.8"/>
<text x="640.9" y="181.4" font-size="7.6" font-weight="normal" fill="#4d4d4d" textLength="19.2" lengthAdjust="spacingAndGlyphs">FK2</text>
<text x="640.9" y="189.6" font-size="7.6" font-weight="bold" fill="#1e1e1e" textLength="19.2" lengthAdjust="spacingAndGlyphs">FK1</text>
<text x="640.9" y="198.3" font-size="7.6" font-weight="bold" fill="#1e1e1e" textLength="19.2" lengthAdjust="spacingAndGlyphs">FK3</text>
<text x="673.2" y="181.4" font-size="7.6" font-weight="normal" fill="#4d4d4d" textLength="35.9" lengthAdjust="spacingAndGlyphs">idTabel</text>
<text x="673.2" y="189.6" font-size="7.6" font-weight="bold" fill="#1e1e1e" textLength="81" lengthAdjust="spacingAndGlyphs">idPaymentType</text>
<text x="673.2" y="198.3" font-size="7.6" font-weight="bold" fill="#1e1e1e" textLength="46.4" lengthAdjust="spacingAndGlyphs">idPerson</text>
<text x="673.2" y="207.1" font-size="7.6" font-weight="normal" fill="#4d4d4d" textLength="28.5" lengthAdjust="spacingAndGlyphs">Hours</text>
<text x="673.2" y="215.5" font-size="7.6" font-weight="normal" fill="#4d4d4d" textLength="22.4" lengthAdjust="spacingAndGlyphs">Date</text>
</g>
<rect x="286.5" y="423" width="346" height="149.3" fill="#2a2830" fill-opacity="0.22"/>
<rect x="287.5" y="424" width="344" height="147.3" fill="#fff"/>
<g font-family="Liberation Sans, sans-serif" filter="url(#eb)">
<path d="M532.8 437.6 H614 Q616.5 437.6 616.5 440 V561.5 Q616.5 563.8 614 563.8 H506 V555" fill="none" stroke="#6b9bd3" stroke-width="1.1"/>
<path d="M506 550.8 L503.75 555.8 L508.25 555.8 Z" fill="#6b9bd3"/>
<path d="M313.9 473 V456.2 H577.7 V470" fill="none" stroke="#222" stroke-width="1.1" stroke-dasharray="3,2"/>
<path d="M383.5 456.2 V470 M447.9 456.2 V470 M512.7 456.2 V470 M505.7 449.5 V456.2" fill="none" stroke="#222" stroke-width="1.1" stroke-dasharray="3,2"/>
<path d="M313.9 473.6 L312.15 469.6 L315.65 469.6 Z" fill="#222"/>
<path d="M383.5 473.6 L381.75 469.6 L385.25 469.6 Z" fill="#222"/>
<path d="M447.9 473.6 L446.15 469.6 L449.65 469.6 Z" fill="#222"/>
<path d="M512.7 473.6 L510.95000000000005 469.6 L514.45 469.6 Z" fill="#222"/>
<path d="M577.7 473.6 L575.95 469.6 L579.45 469.6 Z" fill="#222"/>
<path d="M447.9 503 V520.3 H577.7 V503 M512.7 520.3 V503 M505.8 520.3 V527.2" fill="none" stroke="#dd1c1c" stroke-width="1.3"/>
<path d="M447.9 499.5 L445.65 504.5 L450.15 504.5 Z" fill="#dd1c1c"/>
<path d="M512.7 499.5 L510.45000000000005 504.5 L514.95 504.5 Z" fill="#dd1c1c"/>
<path d="M577.7 499.5 L575.45 504.5 L579.95 504.5 Z" fill="#dd1c1c"/>
<line x1="338.4" y1="487.8" x2="353.8" y2="487.8" stroke="#dd1c1c" stroke-width="1.2"/>
<path d="M357.8 487.8 L352.8 485.8 L352.8 489.8 Z" fill="#dd1c1c"/>
<line x1="408.7" y1="487.8" x2="418.5" y2="487.8" stroke="#dd1c1c" stroke-width="1.2"/>
<path d="M422.5 487.8 L417.5 485.8 L417.5 489.8 Z" fill="#dd1c1c"/>
<line x1="472.8" y1="487.8" x2="483.9" y2="487.8" stroke="#dd1c1c" stroke-width="1.2"/>
<path d="M487.9 487.8 L482.9 485.8 L482.9 489.8 Z" fill="#dd1c1c"/>
<line x1="537.5" y1="487.8" x2="548" y2="487.8" stroke="#dd1c1c" stroke-width="1.2"/>
<path d="M552 487.8 L547 485.8 L547 489.8 Z" fill="#dd1c1c"/>
<path d="M289.4 473.6 H338.4 V498.8 C322.1 486.8 305.7 510.8 289.4 498.8 Z" fill="#f8f497" stroke="#666" stroke-width="1"/>
<path d="M358.2 473.6 H408.7 V498.8 C391.9 486.8 375.0 510.8 358.2 498.8 Z" fill="#f8f497" stroke="#666" stroke-width="1"/>
<path d="M422.9 473.8 H472.8 V498.6 C456.2 486.6 439.5 510.6 422.9 498.6 Z" fill="#efd0cf" stroke="#333" stroke-width="1"/>
<path d="M488.1 473.8 H537.5 V498.6 C521.0 486.6 504.6 510.6 488.1 498.6 Z" fill="#efd0cf" stroke="#333" stroke-width="1"/>
<path d="M552.2 473.8 H602.8 V498.8 C585.9 486.8 569.1 510.8 552.2 498.8 Z" fill="#efd0cf" stroke="#333" stroke-width="1"/>
<path d="M485.9 426.5 H532.8 V449.4 H478.9 V434.9 Z" fill="#e4eaf2" stroke="#333" stroke-width="1"/>
<path d="M486.8 527.2 H533.6 V550.6 H477.8 V536.2 Z" fill="#d6e2bb" stroke="#333" stroke-width="1"/>
<text x="291.1" y="486" font-size="5.6" font-weight="normal" fill="#222" textLength="45.9" lengthAdjust="spacingAndGlyphs">Заказ покупателя</text>
<text x="364.1" y="483" font-size="5.6" font-weight="normal" fill="#222" textLength="36.8" lengthAdjust="spacingAndGlyphs">План выпуска</text>
<text x="369.4" y="488.7" font-size="5.6" font-weight="normal" fill="#222" textLength="27.1" lengthAdjust="spacingAndGlyphs">продукции</text>
<text x="426.5" y="483" font-size="5.6" font-weight="bold" fill="#222" textLength="42" lengthAdjust="spacingAndGlyphs">Заказ выпуска</text>
<text x="431.5" y="488.7" font-size="5.6" font-weight="bold" fill="#222" textLength="31" lengthAdjust="spacingAndGlyphs">продукции</text>
<text x="495.2" y="483" font-size="5.6" font-weight="bold" fill="#222" textLength="34.8" lengthAdjust="spacingAndGlyphs">Требование</text>
<text x="498.1" y="488.7" font-size="5.6" font-weight="bold" fill="#222" textLength="27.5" lengthAdjust="spacingAndGlyphs">накладная</text>
<text x="568.7" y="478.9" font-size="5.6" font-weight="bold" fill="#222" textLength="14.6" lengthAdjust="spacingAndGlyphs">Отчет</text>
<text x="552.8" y="485.7" font-size="5.6" font-weight="bold" fill="#222" textLength="45" lengthAdjust="spacingAndGlyphs">производства за</text>
<text x="568.7" y="491.8" font-size="5.6" font-weight="bold" fill="#222" textLength="16.5" lengthAdjust="spacingAndGlyphs">смену</text>
<text x="485.5" y="439.5" font-size="5.6" font-weight="bold" fill="#222" textLength="40.1" lengthAdjust="spacingAndGlyphs">Номенклатура</text>
<text x="483.8" y="538" font-size="5.6" font-weight="bold" fill="#222" textLength="42.9" lengthAdjust="spacingAndGlyphs">Спецификация</text>
<text x="485.2" y="545.8" font-size="5.6" font-weight="bold" fill="#222" textLength="40.1" lengthAdjust="spacingAndGlyphs">номенклатуры</text>
</g>
</svg>
</body></html>
